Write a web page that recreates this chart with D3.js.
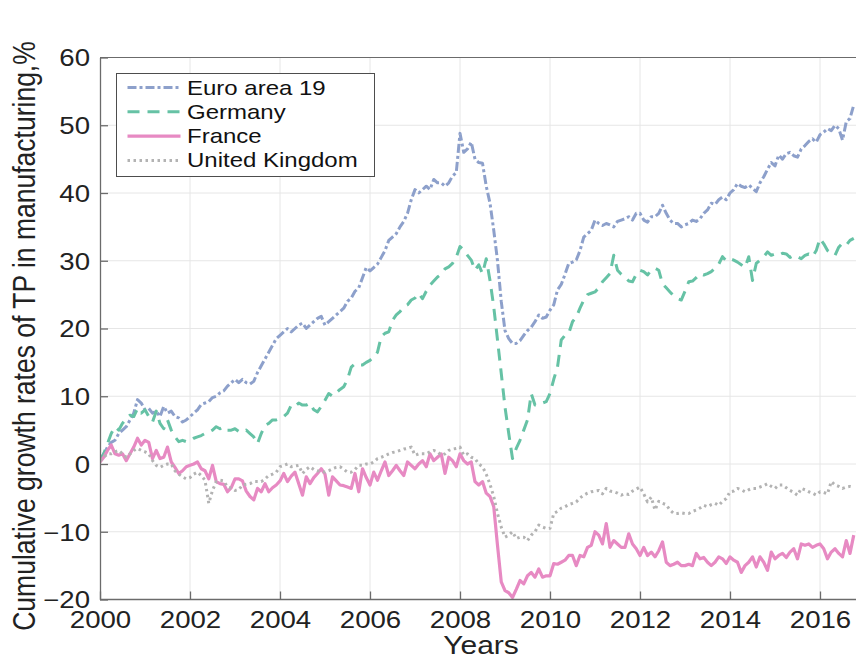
<!DOCTYPE html>
<html>
<head>
<meta charset="utf-8">
<script src="https://cdn.jsdelivr.net/npm/d3@7.9.0/dist/d3.min.js"></script>
<style>
  body { margin: 0; background: #fff; }
  svg { display: block; font-family: "Liberation Sans", Arial, Helvetica, sans-serif; }
</style>
</head>
<body>
<svg id="chart" width="856" height="659"></svg>
<script>
// Monthly values, Jan 2000 .. Oct 2016 (one row per year)
const firstYear = 2000;

const euroArea = [
  0.5, 1.5, 2.5, 3.2, 3.5, 4.5, 5.0, 5.5, 6.5, 7.5, 9.5, 9.0,
  8.0, 8.2, 7.5, 7.8, 7.0, 8.5, 7.5, 7.8, 7.0, 6.8, 6.2, 6.5,
  7.0, 7.5, 8.0, 8.8, 9.0, 9.2, 9.8, 10.0, 10.5, 10.8, 11.5, 12.0,
  12.5, 12.0, 12.5, 12.0, 11.8, 12.2, 13.5, 14.5, 15.5, 16.5, 17.5, 18.5,
  19.0, 19.5, 20.0, 19.5, 20.0, 20.5, 20.8, 20.0, 20.5, 21.0, 21.5, 21.8,
  20.5, 21.0, 21.5, 22.0, 22.5, 23.0, 24.0, 24.5, 25.5, 26.0, 27.5, 29.0,
  28.5, 29.0, 29.5, 30.5, 31.5, 33.0, 33.5, 34.0, 35.0, 35.8, 37.0, 39.0,
  40.5, 40.0, 40.5, 41.0, 40.5, 42.0, 41.5, 41.5, 41.0, 41.5, 42.5, 43.0,
  48.8, 46.0, 46.5, 47.5, 45.0, 44.5, 44.4, 41.0, 38.5, 34.5, 30.0, 24.0,
  19.7, 18.5, 17.8, 17.8, 18.2, 19.0, 19.7, 20.2, 21.0, 22.0, 21.5, 21.7,
  22.7, 23.5, 25.7, 26.5, 28.0, 29.6, 29.8, 30.1, 31.5, 33.5, 34.0, 34.5,
  36.0, 35.5, 35.2, 35.5, 35.3, 35.0, 35.8, 36.0, 36.2, 36.5, 36.0, 37.0,
  37.0, 36.0, 35.7, 36.5, 36.5, 37.0, 38.2, 37.0, 36.0, 35.5, 35.5, 35.0,
  35.3, 35.5, 36.0, 35.8, 36.2, 37.0, 37.5, 38.5, 38.3, 39.0, 39.4, 39.0,
  40.0, 40.5, 41.4, 41.0, 40.8, 41.2, 40.7, 40.2, 41.5, 42.4, 43.5, 44.5,
  44.0, 45.6, 45.0, 45.8, 46.0, 45.5, 45.3, 46.5, 47.0, 47.6, 48.0, 47.5,
  48.6, 49.0, 49.5, 49.2, 50.0, 49.5, 47.8, 50.5, 51.0, 53.0
];

const germany = [
  0.5, 1.5, 3.0, 4.5, 5.5, 5.0, 6.0, 6.7, 7.2, 7.0, 8.2, 7.5,
  8.0, 7.0, 6.2, 7.8, 6.0, 5.2, 6.5, 5.0, 4.0, 3.3, 3.5, 3.3,
  3.4, 3.8, 4.0, 4.2, 4.5, 4.7, 5.0, 5.5, 5.2, 5.5, 5.0, 5.0,
  5.2, 4.8, 4.7, 5.0, 4.5, 4.0, 3.0, 4.5, 5.7, 6.0, 6.5, 6.5,
  6.7, 7.0, 7.5, 8.7, 8.5, 9.0, 8.7, 8.7, 9.0, 8.0, 7.7, 8.5,
  9.4, 10.4, 10.0, 10.5, 11.0, 11.4, 12.5, 14.3, 14.8, 14.6, 14.6, 15.0,
  15.3, 15.8, 16.5, 18.8, 19.3, 19.5, 21.2, 22.0, 22.5, 23.2, 23.5, 24.2,
  24.5, 25.2, 24.4, 25.5, 26.4, 27.0, 27.6, 28.0, 28.8, 29.1, 29.6, 30.5,
  32.1, 31.6, 30.8, 30.1, 28.6, 29.4, 28.1, 30.3, 27.1, 23.2, 18.3, 13.4,
  8.4, 4.5, 0.8, 2.3, 3.5, 5.0, 6.5, 10.4, 8.7, 8.7, 9.0, 9.2,
  10.4, 12.5, 14.3, 18.3, 19.0, 19.3, 21.0, 21.7, 23.0, 24.2, 25.0, 25.2,
  25.4, 26.0, 26.9, 27.5, 28.1, 30.8, 28.6, 28.0, 27.6, 27.0, 26.9, 28.0,
  28.6, 28.4, 27.9, 28.6, 28.9, 28.6, 26.6, 26.0, 25.4, 24.8, 24.4, 24.2,
  25.5, 26.9, 27.0, 27.5, 28.1, 27.9, 28.1, 28.4, 28.9, 29.5, 30.6, 30.0,
  30.3, 30.1, 29.8, 29.4, 29.0, 30.6, 27.1, 29.6, 30.1, 30.6, 31.3, 30.8,
  31.0, 30.8, 31.1, 31.0, 30.5, 30.8, 30.6, 30.3, 30.8, 31.0, 30.6, 31.5,
  33.3, 32.5, 31.5, 31.1, 30.8, 32.0, 32.6, 32.3, 33.0, 33.3
];

const france = [
  0.3, 1.0, 2.0, 2.8, 1.5, 1.3, 1.5, 0.5, 1.5, 2.5, 3.8, 2.8,
  3.5, 3.2, 0.8, 2.0, 0.8, 1.0, 2.5, 0.3, -0.5, -1.4, -1.0, -0.4,
  -0.2, 0.0, 0.3, -0.7, -1.0, -2.2, -0.2, -2.6, -2.9, -3.0, -4.1, -3.5,
  -2.2, -2.2, -2.5, -4.0, -4.8, -5.3, -3.6, -4.1, -2.9, -4.1, -3.5, -3.1,
  -2.5, -1.4, -2.6, -1.8, -1.2, -2.9, -4.6, -1.9, -2.9, -2.0, -1.4, -0.7,
  -1.5, -4.6, -1.9, -2.5, -3.1, -3.2, -3.4, -3.6, -1.4, -4.1, -0.7, -2.0,
  -3.1, -1.2, -2.4, -1.0, 0.3, -1.7, -1.0, -0.2, -1.0, -1.7, 0.3, -0.2,
  -0.7, 0.0, 0.5, -0.4, 1.5, 0.5, 1.0, 1.5, -1.4, 1.0, 0.5, -0.4,
  1.5, 0.5, 0.0, 0.3, -2.6, -3.1, -2.6, -4.3, -4.8, -6.3, -12.0, -17.4,
  -18.7, -19.0, -19.7, -18.5, -17.2, -17.7, -16.5, -16.0, -16.7, -15.5, -16.7, -16.5,
  -16.5, -14.7, -14.8, -14.5, -14.2, -13.5, -13.5, -15.0, -13.5, -13.7, -12.3, -12.0,
  -10.0, -10.5, -11.8, -8.8, -12.3, -11.3, -11.8, -12.3, -12.3, -10.3, -11.8, -12.5,
  -13.5, -12.3, -13.5, -13.0, -13.7, -12.8, -11.5, -14.5, -15.0, -14.8, -14.5, -15.0,
  -15.0, -14.8, -15.0, -13.2, -14.0, -13.8, -14.5, -15.0, -14.5, -13.7, -14.0, -14.7,
  -13.7, -14.2, -14.5, -16.0, -15.0, -14.5, -13.7, -15.2, -13.7, -14.5, -15.7, -13.0,
  -14.0, -13.5, -13.2, -13.8, -13.0, -12.5, -14.0, -11.8, -12.0, -11.8, -12.3, -12.0,
  -11.8, -12.5, -14.0, -13.0, -12.5, -13.2, -13.7, -11.3, -13.2, -10.5
];

const unitedKingdom = [
  0.5, 1.0, 1.5, 1.5, 1.8, 2.0, 1.5, 1.0, 1.5, 2.0, 2.3, 2.0,
  1.8, 1.5, 0.5, -0.2, -0.5, -0.2, 0.0, 0.0, -1.0, -1.5, -1.9, -2.2,
  -2.0, -1.5, -1.2, -1.7, -2.4, -5.8, -3.9, -2.6, -2.4, -2.5, -3.4, -3.6,
  -3.9, -3.8, -3.1, -3.0, -2.9, -2.6, -2.6, -2.6, -2.2, -1.7, -1.5, -1.2,
  -0.4, -0.2, 0.0, -0.4, -0.3, -0.2, -1.4, -0.8, -0.4, -0.8, -1.0, -1.1,
  -1.2, -1.0, -0.7, -0.5, -0.4, -0.8, -1.2, -1.2, -0.8, -0.2, -0.2, 0.0,
  0.0, 0.3, 0.8, 1.0, 1.2, 1.5, 1.7, 1.8, 2.0, 2.2, 2.3, 2.5,
  1.3, 1.5, 1.5, 1.5, 1.8, 2.0, 1.8, 1.3, 1.5, 2.0, 2.2, 2.3,
  2.5, 1.3, 1.5, 1.0, 0.8, 0.0, -0.4, -1.5, -3.0, -4.8, -7.3, -9.3,
  -10.8, -10.5, -10.0, -11.0, -10.8, -10.8, -11.3, -10.5, -10.0, -9.0, -9.3, -9.5,
  -9.5, -7.3, -7.0, -6.5, -6.3, -6.0, -5.8, -5.6, -5.0, -4.6, -4.3, -4.1,
  -4.0, -3.9, -4.4, -3.6, -4.0, -4.1, -4.3, -4.6, -4.4, -4.5, -4.0, -3.7,
  -3.4, -4.4, -5.6, -4.9, -6.8, -5.5, -5.8, -6.0, -6.8, -7.3, -7.3, -7.2,
  -7.3, -7.3, -7.0, -6.8, -6.5, -6.1, -6.3, -6.0, -5.8, -6.1, -5.5, -5.1,
  -4.1, -4.0, -3.6, -3.8, -4.1, -3.8, -3.6, -3.6, -3.4, -3.2, -2.9, -3.3,
  -3.6, -3.1, -3.1, -3.5, -3.9, -4.2, -4.6, -3.6, -3.8, -4.1, -4.3, -4.6,
  -4.1, -4.2, -4.4, -2.6, -3.1, -3.3, -3.6, -3.4, -3.3, -3.4
];

const seriesNames = ['Euro area 19', 'Germany', 'France', 'United Kingdom'];
const xTicks = [2000, 2002, 2004, 2006, 2008, 2010, 2012, 2014, 2016];
const yTicks = [-20, -10, 0, 10, 20, 30, 40, 50, 60];

const styles = [
  { color: '#8da0cb', dash: '9,3,3,3', width: 3 },
  { color: '#66c2a5', dash: '12,8', width: 3 },
  { color: '#e78ac3', dash: null, width: 3.2 },
  { color: '#b3b3b3', dash: '2.5,3.5', width: 3 }
];

const series = [euroArea, germany, france, unitedKingdom].map((values, i) => ({
  name: seriesNames[i],
  points: values.map((v, m) => ({ t: firstYear + m / 12, v })),
  ...styles[i]
}));

// layout
const margin = { top: 57.5, right: 0, bottom: 60, left: 100 };
const width = 856, height = 659;
const stretch = 1.2; // text in the reference is a bit wide

const x = d3.scaleLinear().domain([2000, 2016.8]).range([margin.left, width - margin.right]);
const y = d3.scaleLinear().domain([-20, 60]).range([height - margin.bottom + 0.5, margin.top]);

const svg = d3.select('#chart');

// grid
const grid = svg.append('g').attr('stroke', '#e6e6e6').attr('stroke-width', 1);
grid.selectAll('line.v').data(xTicks.slice(1)).join('line')
  .attr('x1', d => x(d)).attr('x2', d => x(d))
  .attr('y1', y(-20)).attr('y2', y(60));
grid.selectAll('line.h').data(yTicks.slice(1)).join('line')
  .attr('x1', x(2000)).attr('x2', width)
  .attr('y1', d => y(d)).attr('y2', d => y(d));

// clip
svg.append('clipPath').attr('id', 'plot-clip').append('rect')
  .attr('x', x(2000)).attr('y', y(60) - 4)
  .attr('width', width - x(2000)).attr('height', y(-20) - y(60) + 4);

const line = d3.line().x(d => x(d.t)).y(d => y(d.v));

svg.append('g').attr('clip-path', 'url(#plot-clip)')
  .selectAll('path').data(series).join('path')
  .attr('d', d => line(d.points))
  .attr('fill', 'none')
  .attr('stroke', d => d.color)
  .attr('stroke-width', d => d.width)
  .attr('stroke-dasharray', d => d.dash)
  .attr('stroke-linejoin', 'round');

// axes, ticks pointing inward
const axisColor = '#6b6b6b';
const xAxis = svg.append('g')
  .attr('transform', `translate(0,${y(-20)})`)
  .call(d3.axisBottom(x).tickValues(xTicks).tickFormat(d3.format('d')).tickSize(-8).tickSizeOuter(0));
xAxis.select('.domain').attr('d', `M${x(2000)},0H${width}`);
xAxis.selectAll('text')
  .attr('y', 29).attr('dy', null)
  .attr('transform', `scale(${stretch},1)`);

const yAxis = svg.append('g')
  .attr('transform', `translate(${x(2000)},0)`)
  .call(d3.axisLeft(y).tickValues(yTicks).tickSize(-8).tickSizeOuter(0));
yAxis.selectAll('text')
  .attr('x', -10 / stretch).attr('dy', '0.36em')
  .attr('transform', `scale(${stretch},1)`);

[xAxis, yAxis].forEach(g => {
  g.attr('font-size', 23).attr('font-family', null);
  g.selectAll('.domain, line').attr('stroke', axisColor).attr('stroke-width', 1.3);
  g.selectAll('text').attr('fill', '#222');
});

// top border of the box
svg.append('line')
  .attr('x1', x(2000)).attr('x2', width)
  .attr('y1', y(60)).attr('y2', y(60))
  .attr('stroke', axisColor).attr('stroke-width', 1);

// axis titles
svg.append('text')
  .attr('transform', `translate(${(x(2000) + width) / 2 + 3},${height - 5}) scale(${stretch},1)`)
  .attr('text-anchor', 'middle')
  .attr('font-size', 25).attr('fill', '#222')
  .text('Years');

svg.append('text')
  .attr('transform', `translate(35,336) rotate(-90) scale(1,${stretch})`)
  .attr('text-anchor', 'middle')
  .attr('font-size', 26.5).attr('fill', '#222')
  .text('Cumulative growth rates of TP in manufacturing,%');

// legend
const legend = svg.append('g').attr('transform', 'translate(116.5,73.5)');
legend.append('rect')
  .attr('width', 258).attr('height', 103)
  .attr('fill', '#fff').attr('stroke', '#4d4d4d').attr('stroke-width', 1);
const rows = legend.selectAll('g.row').data(series).join('g')
  .attr('transform', (d, i) => `translate(0,${14 + i * 24.3})`);
rows.append('line')
  .attr('x1', 11).attr('x2', 64)
  .attr('stroke', d => d.color)
  .attr('stroke-width', d => d.width)
  .attr('stroke-dasharray', d => d.dash);
rows.append('text')
  .attr('transform', `translate(70.5,7) scale(${stretch},1)`)
  .attr('font-size', 20).attr('fill', '#111')
  .text(d => d.name);
</script>
</body>
</html>
